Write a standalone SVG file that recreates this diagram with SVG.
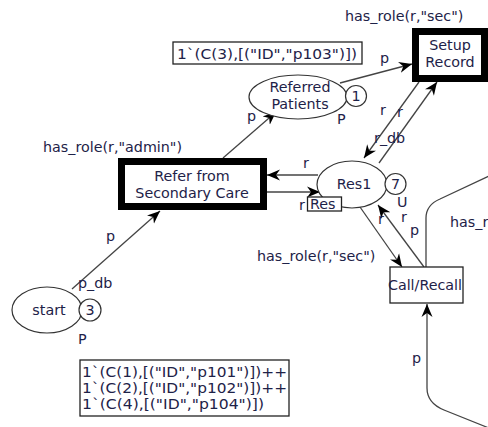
<svg xmlns="http://www.w3.org/2000/svg" width="488" height="427" viewBox="0 0 488 427">
<defs>
<style>
text{font-family:"DejaVu Sans","Liberation Sans",sans-serif;font-size:14.3px;fill:#1e2248}
.m{font-size:14.6px}
.c{text-anchor:middle}
.place{fill:#fff;stroke:#333;stroke-width:1.2}
.tok{fill:#fff;stroke:#333;stroke-width:1.2}
.thick{fill:#fff;stroke:#000;stroke-width:7}
.thin{fill:#fff;stroke:#222;stroke-width:1.3}
.arc{fill:none;stroke:#444;stroke-width:1.3}
</style>
<marker id="ah" viewBox="0 -6 14 12" refX="13" refY="0" markerWidth="14" markerHeight="12" markerUnits="userSpaceOnUse" orient="auto">
<path d="M0,-5.5 L13,0 L0,5.5 L4,0 Z" fill="#000"/>
</marker>
</defs>
<rect width="488" height="427" fill="#fff"/>

<g id="connectors">
<path class="arc" d="M72,289 L160,211" marker-end="url(#ah)"/>
<path class="arc" d="M223,158 L276,112" marker-end="url(#ah)"/>
<path class="arc" d="M340,83 L412,64" marker-end="url(#ah)"/>
<path class="arc" d="M419,82 L364,158" marker-end="url(#ah)"/>
<path class="arc" d="M379,163 L437,82" marker-end="url(#ah)"/>
<path class="arc" d="M318,175 L267,175" marker-end="url(#ah)"/>
<path class="arc" d="M267,192 L320,192" marker-end="url(#ah)"/>
<path class="arc" d="M360,207 L402,267" marker-end="url(#ah)"/>
<path class="arc" d="M424,267 L378,205" marker-end="url(#ah)"/>
<path class="arc" d="M426,267 L426,218 Q426,205 440,199 L489,176"/>
<path class="arc" d="M489,428 L444,410 Q427,403 427,388 L427,304" marker-end="url(#ah)"/>
<text x="380" y="63">p</text>
<text x="247" y="121">p</text>
<text x="337" y="124">P</text>
<text x="303" y="168">r</text>
<text x="299" y="210">r</text>
<text x="380" y="115">r</text>
<text x="397" y="117">r</text>
<text x="374" y="143">r_db</text>
<text x="397" y="207">U</text>
<text x="401" y="222">r</text>
<text x="378" y="224">r</text>
<text x="410" y="235">p</text>
<text x="412" y="363">p</text>
<text x="106" y="241">p</text>
<text x="78" y="288">p_db</text>
<text x="78" y="344">P</text>
</g>

<g id="setup-record">
<text x="345" y="21">has_role(r,"sec")</text>
<rect class="thick" x="415.5" y="31.5" width="69" height="47"/>
<text class="c" x="450" y="50">Setup</text>
<text class="c" x="450" y="67">Record</text>
</g>

<g id="marking-referred">
<rect class="thin" x="173" y="42" width="189" height="22"/>
<text class="m" x="177" y="59" textLength="180" lengthAdjust="spacingAndGlyphs">1`(C(3),[("ID","p103")])</text>
</g>

<g id="referred-patients">
<ellipse class="place" cx="298" cy="97" rx="49" ry="22"/>
<text class="c" x="300" y="92">Referred</text>
<text class="c" x="300" y="109">Patients</text>
<circle class="tok" cx="356" cy="96" r="10.5"/>
<text class="c" x="356" y="101">1</text>
</g>

<g id="refer-from-secondary-care">
<text x="43" y="152">has_role(r,"admin")</text>
<rect class="thick" x="121.5" y="161.5" width="142" height="45"/>
<text class="c" x="192" y="181">Refer from</text>
<text class="c" x="192" y="198">Secondary Care</text>
</g>

<g id="res1">
<ellipse class="place" cx="352" cy="184.5" rx="35" ry="23.5"/>
<text class="c" x="354" y="189">Res1</text>
<circle class="tok" cx="395.5" cy="184" r="10.5"/>
<text class="c" x="395.5" y="189">7</text>
<rect class="thin" x="307.5" y="197" width="34" height="14"/>
<text x="310" y="209">Res</text>
</g>

<g id="call-recall">
<text x="257" y="261">has_role(r,"sec")</text>
<rect class="thin" x="390" y="267" width="73" height="36"/>
<text class="c" x="425" y="290">Call/Recall</text>
<text x="450" y="227">has_r</text>
</g>

<g id="start">
<ellipse class="place" cx="47" cy="310" rx="35" ry="23"/>
<text class="c" x="49" y="315">start</text>
<circle class="tok" cx="90" cy="310" r="11"/>
<text class="c" x="90" y="315">3</text>
</g>

<g id="marking-start">
<rect class="thin" x="80" y="360" width="209" height="56"/>
<text class="m" x="82" y="377" textLength="205" lengthAdjust="spacingAndGlyphs">1`(C(1),[("ID","p101")])++</text>
<text class="m" x="82" y="393" textLength="205" lengthAdjust="spacingAndGlyphs">1`(C(2),[("ID","p102")])++</text>
<text class="m" x="82" y="409" textLength="182" lengthAdjust="spacingAndGlyphs">1`(C(4),[("ID","p104")])</text>
</g>
</svg>
